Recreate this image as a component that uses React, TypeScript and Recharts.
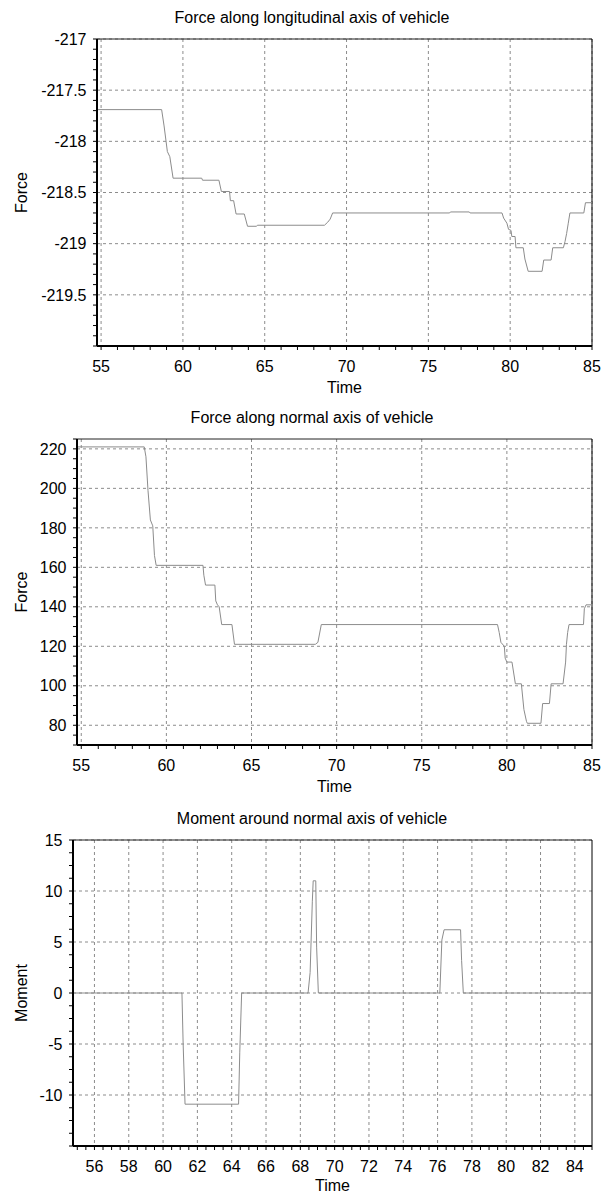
import React from 'react'
import { LineChart, Line, CartesianGrid, XAxis, YAxis, ReferenceLine } from 'recharts'

const FONT = '"Liberation Sans", Arial, sans-serif'

// panel 1: force along longitudinal axis
const longTime = [54.75, 58.7, 58.85, 59.05, 59.2, 59.4, 61.15, 61.2, 62.2, 62.35, 62.85, 62.9, 63.1, 63.25, 63.75, 63.95, 64.5, 64.55, 68.65, 68.85, 69.0, 69.15, 76.3, 76.35, 77.5, 77.55, 79.5, 79.6, 79.8, 79.9, 80.05, 80.1, 80.3, 80.35, 80.8, 80.9, 81.1, 81.95, 82.05, 82.5, 82.6, 83.25, 83.35, 83.45, 83.55, 83.65, 84.5, 84.6, 85]
const longForce = [-217.69, -217.69, -217.85, -218.1, -218.15, -218.36, -218.36, -218.38, -218.38, -218.49, -218.49, -218.58, -218.58, -218.71, -218.71, -218.83, -218.83, -218.82, -218.82, -218.79, -218.76, -218.7, -218.7, -218.69, -218.69, -218.7, -218.7, -218.75, -218.8, -218.86, -218.87, -218.93, -218.93, -219.04, -219.04, -219.15, -219.27, -219.27, -219.16, -219.16, -219.04, -219.04, -218.98, -218.9, -218.8, -218.7, -218.7, -218.6, -218.6]
const longYTicks = [-219.5, -219, -218.5, -218, -217.5, -217]

// panel 2: force along normal axis
const normTime = [54.75, 58.7, 58.8, 58.92, 59.06, 59.2, 59.3, 59.4, 62.15, 62.2, 62.3, 62.85, 62.9, 63.0, 63.1, 63.25, 63.85, 64.0, 68.75, 68.9, 69.1, 79.45, 79.55, 79.65, 79.85, 79.9, 80.0, 80.3, 80.5, 80.85, 81.0, 81.15, 81.2, 82.0, 82.1, 82.5, 82.6, 83.3, 83.45, 83.5, 83.57, 83.65, 84.5, 84.55, 84.65, 85]
const normForce = [221, 221, 216, 199, 184, 181, 166, 161, 161, 156, 151, 151, 143, 141, 140, 131, 131, 121, 121, 122, 131, 131, 127, 122, 120, 114, 112, 112, 101, 101, 88, 82, 81, 81, 91, 91, 101, 101, 112, 121, 127, 131, 131, 139, 141, 141]
const normYTicks = [80, 100, 120, 140, 160, 180, 200, 220]

// panel 3: moment around normal axis
const momTime = [54.75, 61.1, 61.17, 61.28, 64.4, 64.47, 64.58, 68.45, 68.57, 68.7, 68.75, 68.9, 68.95, 69.05, 76.13, 76.25, 76.38, 77.34, 77.4, 77.5, 85]
const momValue = [0, 0, -5, -10.9, -10.9, -5.8, 0, 0, 2, 9, 11, 11, 4.5, 0, 0, 5.2, 6.2, 6.2, 3.2, 0, 0]
const momXTicks = [56, 58, 60, 62, 64, 66, 68, 70, 72, 74, 76, 78, 80, 82, 84]
const momYTicks = [-10, -5, 0, 5, 10, 15]

const timeTicks = [55, 60, 65, 70, 75, 80, 85]
const timeDomain = [54.75, 85]

const range = (a: number, b: number, step: number) =>
  Array.from({ length: Math.round((b - a) / step) + 1 }, (_, i) => +(a + i * step).toFixed(4))

const isMajor = (list: number[], v: number) => list.some((m) => Math.abs(m - v) < 1e-6)

const zip = (t: number[], v: number[]) => t.map((x, i) => ({ t: x, v: v[i] }))

const XTick = (props: any) => {
  const { x, y, payload, major } = props
  return (
    <g>
      <line x1={x} x2={x} y1={y} y2={y + 4} stroke="#000" />
      {isMajor(major, payload.value) && (
        <text x={x} y={y + 20} dy="0.355em" textAnchor="middle" fontFamily={FONT} fontSize={16} fill="#000">
          {payload.value}
        </text>
      )}
    </g>
  )
}

const YTick = (props: any) => {
  const { x, y, payload, major } = props
  return (
    <g>
      <line x1={x - 4} x2={x} y1={y} y2={y} stroke="#000" />
      {isMajor(major, payload.value) && (
        <text x={x - 10.5} y={y} dy="0.355em" textAnchor="end" fontFamily={FONT} fontSize={16} fill="#000">
          {payload.value}
        </text>
      )}
    </g>
  )
}

type PanelProps = {
  top: number
  height: number
  marginTop: number
  axisWidth: number
  axisHeight: number
  timeOffset: number
  title: string
  yLabel: string
  data: { t: number; v: number }[]
  yDomain: number[]
  xMajor: number[]
  xMinor: number[]
  yMajor: number[]
  yMinor: number[]
}

const Panel = (p: PanelProps) => (
  <div style={{ position: 'absolute', left: 0, top: p.top, width: 612, height: p.height }}>
    <div
      style={{
        position: 'absolute',
        left: 0,
        width: 624,
        top: p.marginTop - 31,
        lineHeight: '20px',
        textAlign: 'center',
        fontFamily: FONT,
        fontSize: 16,
        color: '#000',
      }}
    >
      {p.title}
    </div>
    <LineChart
      width={612}
      height={p.height}
      data={p.data}
      margin={{ top: p.marginTop, right: 20, bottom: 0, left: 0 }}
    >
      <CartesianGrid
        stroke="#8c8c8c"
        strokeDasharray="3 3"
        verticalValues={p.xMajor}
        horizontalValues={p.yMajor}
      />
      <XAxis
        dataKey="t"
        type="number"
        domain={timeDomain}
        allowDataOverflow
        ticks={p.xMinor}
        interval={0}
        height={p.axisHeight}
        tickSize={0}
        tickMargin={0}
        tickLine={false}
        axisLine={{ stroke: '#000', strokeWidth: 2 }}
        tick={(tp: any) => <XTick {...tp} major={p.xMajor} />}
        label={{ value: 'Time', position: 'insideBottom', offset: p.timeOffset, fontFamily: FONT, fontSize: 16, fill: '#000' }}
      />
      <YAxis
        type="number"
        domain={p.yDomain}
        allowDataOverflow
        ticks={p.yMinor}
        interval={0}
        width={p.axisWidth}
        tickSize={0}
        tickMargin={0}
        tickLine={false}
        axisLine={{ stroke: '#000', strokeWidth: 2 }}
        tick={(tp: any) => <YTick {...tp} major={p.yMajor} />}
        label={{
          value: p.yLabel,
          angle: -90,
          position: 'insideLeft',
          offset: 21,
          fontFamily: FONT,
          fontSize: 16,
          fill: '#000',
          style: { textAnchor: 'middle' },
        }}
      />
      <ReferenceLine y={p.yDomain[1]} stroke="#222" />
      <ReferenceLine x={timeDomain[1]} stroke="#000" />
      <Line
        type="linear"
        dataKey="v"
        stroke="#8c8c8c"
        strokeWidth={1}
        dot={false}
        activeDot={false}
        isAnimationActive={false}
      />
    </LineChart>
  </div>
)

const App = () => (
  <div style={{ position: 'absolute', left: 0, top: 0, width: 612, height: 1193, background: '#fff' }}>
    <Panel
      top={0}
      height={400}
      marginTop={39}
      axisWidth={97}
      axisHeight={54}
      timeOffset={7}
      title="Force along longitudinal axis of vehicle"
      yLabel="Force"
      data={zip(longTime, longForce)}
      yDomain={[-220, -217]}
      xMajor={timeTicks}
      xMinor={range(55, 85, 1)}
      yMajor={longYTicks}
      yMinor={range(-220, -217, 0.1)}
    />
    <Panel
      top={400}
      height={400}
      marginTop={39}
      axisWidth={77}
      axisHeight={55}
      timeOffset={8}
      title="Force along normal axis of vehicle"
      yLabel="Force"
      data={zip(normTime, normForce)}
      yDomain={[70, 225]}
      xMajor={timeTicks}
      xMinor={range(55, 85, 1)}
      yMajor={normYTicks}
      yMinor={range(70, 225, 5)}
    />
    <Panel
      top={800}
      height={393}
      marginTop={40}
      axisWidth={73}
      axisHeight={47}
      timeOffset={2}
      title="Moment around normal axis of vehicle"
      yLabel="Moment"
      data={zip(momTime, momValue)}
      yDomain={[-15, 15]}
      xMajor={momXTicks}
      xMinor={range(55, 85, 0.5)}
      yMajor={momYTicks}
      yMinor={range(-15, 15, 1.25)}
    />
  </div>
)

export default App
